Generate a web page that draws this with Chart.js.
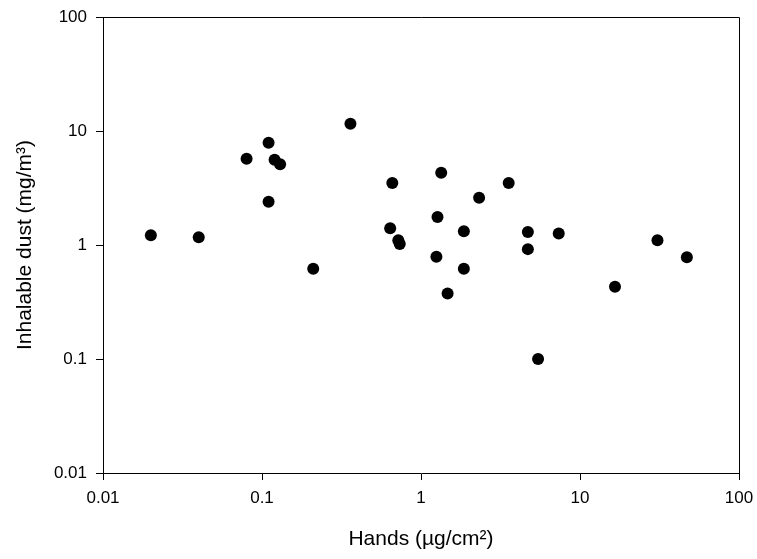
<!DOCTYPE html>
<html>
<head>
<meta charset="utf-8">
<script src="https://cdn.jsdelivr.net/npm/chart.js@4/dist/chart.umd.min.js"></script>
<style>
  html, body { margin: 0; padding: 0; background: #fff; }
  #wrap { width: 757px; height: 559px; position: relative; }
</style>
</head>
<body>
<div id="wrap"><canvas id="c" width="757" height="559"></canvas></div>
<script>
// Hands (µg/cm²) values
const handsValues = [0.02, 0.04, 0.08, 0.11, 0.12, 0.13, 0.11, 0.21, 0.36, 0.66, 0.64, 0.72, 0.735,
  1.34, 1.27, 1.25, 1.47, 1.86, 1.86, 2.32, 3.56, 4.7, 4.7, 5.45, 7.35, 16.6, 30.7, 47];
// Inhalable dust (mg/m³) values
const dustValues = [1.22, 1.17, 5.7, 7.9, 5.6, 5.1, 2.4, 0.62, 11.6, 3.5, 1.4, 1.1, 1.02,
  4.3, 1.76, 0.79, 0.375, 1.32, 0.62, 2.6, 3.5, 1.3, 0.92, 0.1, 1.26, 0.43, 1.1, 0.78];
const xTickValues = [0.01, 0.1, 1, 10, 100];
const xTickLabels = ['0.01', '0.1', '1', '10', '100'];
const yTickValues = [0.01, 0.1, 1, 10, 100];
const yTickLabels = ['0.01', '0.1', '1', '10', '100'];
const xTitle = 'Hands (\u00B5g/cm\u00B2)';
const yTitle = 'Inhalable dust (mg/m\u00B3)';

const points = handsValues.map((x, i) => ({ x: x, y: dustValues[i] }));
const FONT = "Arial, 'Liberation Sans', sans-serif";

const framePlugin = {
  id: 'frame',
  afterDraw(chart) {
    const a = chart.chartArea, ctx = chart.ctx;
    ctx.save();
    ctx.strokeStyle = '#000';
    ctx.lineWidth = 1;
    ctx.beginPath();
    ctx.moveTo(a.left, a.top + 0.5);
    ctx.lineTo(a.right + 0.5, a.top + 0.5);
    ctx.lineTo(a.right + 0.5, a.bottom);
    ctx.stroke();
    ctx.restore();
  }
};

new Chart(document.getElementById('c'), {
  type: 'scatter',
  data: {
    datasets: [{
      data: points,
      backgroundColor: '#000',
      borderColor: '#000',
      borderWidth: 0,
      pointRadius: 6,
      pointHoverRadius: 6
    }]
  },
  options: {
    responsive: false,
    animation: false,
    devicePixelRatio: 1,
    layout: { padding: { left: 0, top: 17, right: 18, bottom: 0 } },
    plugins: { legend: { display: false }, tooltip: { enabled: false } },
    scales: {
      x: {
        type: 'logarithmic',
        min: 0.01, max: 100,
        afterBuildTicks: s => { s.ticks = xTickValues.map(v => ({ value: v })); },
        afterFit: s => { s.height = 86; s.paddingLeft = 0; s.paddingRight = 0; },
        ticks: {
          autoSkip: false, maxRotation: 0, color: '#000', padding: 8,
          font: { family: FONT, size: 17 },
          callback: (v) => xTickLabels[xTickValues.indexOf(v)] ?? ''
        },
        grid: { display: true, drawOnChartArea: false, drawTicks: true, tickLength: 7, color: '#000', lineWidth: 1 },
        border: { display: true, color: '#000', width: 1 },
        title: { display: true, text: xTitle, color: '#000', font: { family: FONT, size: 21 }, padding: { top: 4, bottom: 7 } }
      },
      y: {
        type: 'logarithmic',
        min: 0.01, max: 100,
        afterBuildTicks: s => { s.ticks = yTickValues.map(v => ({ value: v })); },
        afterFit: s => { s.width = 103; s.paddingTop = 0; s.paddingBottom = 0; },
        ticks: {
          autoSkip: false, color: '#000', padding: 9,
          font: { family: FONT, size: 17 },
          callback: (v) => yTickLabels[yTickValues.indexOf(v)] ?? ''
        },
        grid: { display: true, drawOnChartArea: false, drawTicks: true, tickLength: 7, color: '#000', lineWidth: 1 },
        border: { display: true, color: '#000', width: 1 },
        title: { display: true, text: yTitle, color: '#000', font: { family: FONT, size: 21 }, padding: { top: 13, bottom: 0 } }
      }
    }
  },
  plugins: [framePlugin]
});
</script>
</body>
</html>
